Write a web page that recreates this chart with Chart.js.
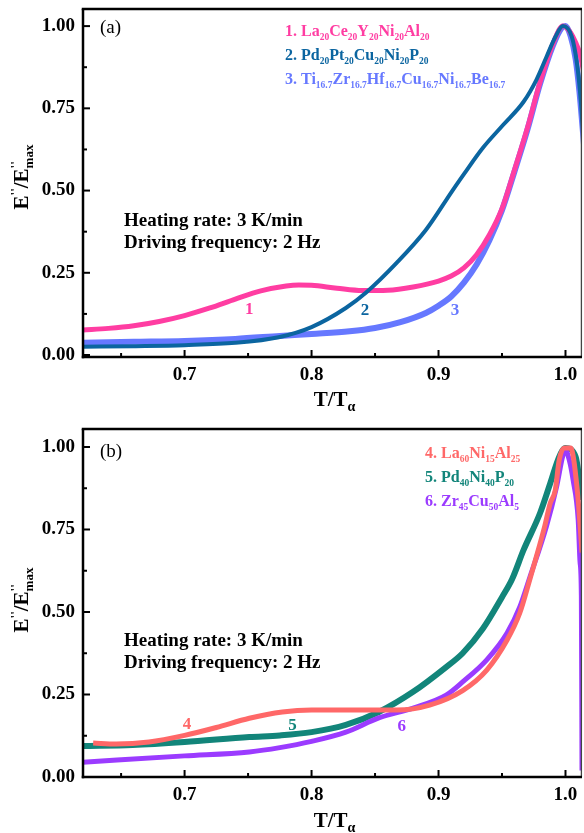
<!DOCTYPE html>
<html><head><meta charset="utf-8">
<script src="https://cdn.jsdelivr.net/npm/chart.js@4.4.0/dist/chart.umd.min.js"></script>
<style>
html,body{margin:0;padding:0;background:#fff;}
#wrap{position:relative;width:584px;height:833px;overflow:hidden;}
canvas{position:absolute;left:0;}
</style></head><body>
<div id="wrap">
<canvas id="c1" width="584" height="416" style="top:0;width:584px;height:416px"></canvas>
<canvas id="c2" width="584" height="417" style="top:416px;width:584px;height:417px"></canvas>
</div>
<script>
// ---- axes ----
const xTicks = [0.7, 0.8, 0.9, 1.0];
const xMinorTicks = [0.65, 0.75, 0.85, 0.95];
const yTicks = [0, 0.25, 0.5, 0.75, 1.0];
const yMinorTicks = [0.125, 0.375, 0.625, 0.875];

// ---- panel (a) ----
const s1Name = "1. La_{20}Ce_{20}Y_{20}Ni_{20}Al_{20}";
const s1X = [0.62,0.64,0.66,0.68,0.70,0.72,0.74,0.76,0.78,0.79,0.80,0.82,0.84,0.86,0.88,0.90,0.91,0.92,0.93,0.94,0.95,0.96,0.97,0.98,0.99,0.998,1.004,1.008,1.011,1.015];
const s1Y = [0.076,0.081,0.089,0.102,0.120,0.143,0.170,0.195,0.210,0.213,0.212,0.203,0.196,0.197,0.207,0.225,0.240,0.265,0.305,0.365,0.445,0.565,0.690,0.830,0.945,1.0,0.98,0.95,0.92,0.85];

const s2Name = "2. Pd_{20}Pt_{20}Cu_{20}Ni_{20}P_{20}";
const s2X = [0.62,0.66,0.70,0.74,0.775,0.80,0.827,0.843,0.867,0.89,0.911,0.92,0.935,0.951,0.967,0.977,0.985,0.992,0.998,1.005,1.009,1.012,1.015];
const s2Y = [0.025,0.027,0.030,0.037,0.055,0.085,0.143,0.190,0.280,0.380,0.500,0.550,0.630,0.700,0.770,0.836,0.906,0.967,1.0,0.967,0.887,0.775,0.60];

const s3Name = "3. Ti_{16.7}Zr_{16.7}Hf_{16.7}Cu_{16.7}Ni_{16.7}Be_{16.7}";
const s3X = [0.62,0.66,0.70,0.74,0.775,0.80,0.83,0.85,0.87,0.89,0.90,0.91,0.92,0.93,0.94,0.95,0.96,0.97,0.98,0.99,0.997,1.0,1.004,1.008,1.011,1.015];
const s3Y = [0.037,0.040,0.043,0.049,0.058,0.064,0.072,0.082,0.100,0.128,0.150,0.178,0.220,0.275,0.348,0.440,0.560,0.685,0.825,0.940,0.995,1.0,0.97,0.90,0.80,0.62];

// ---- panel (b) ----
const s4Name = "4. La_{60}Ni_{15}Al_{25}";
const s4X = [0.628,0.646,0.672,0.70,0.725,0.751,0.777,0.80,0.827,0.867,0.893,0.919,0.938,0.954,0.964,0.972,0.983,0.988,0.992,0.995,0.999,1.004,1.009,1.013,1.016];
const s4Y = [0.103,0.100,0.106,0.126,0.150,0.178,0.197,0.203,0.203,0.203,0.218,0.262,0.324,0.415,0.497,0.600,0.750,0.830,0.870,0.960,0.997,0.997,0.880,0.680,0.50];

const s5Name = "5. Pd_{40}Ni_{40}P_{20}";
const s5X = [0.62,0.659,0.70,0.751,0.775,0.80,0.827,0.853,0.88,0.906,0.919,0.935,0.95,0.958,0.967,0.98,0.988,0.995,1.0,1.008,1.011,1.013];
const s5Y = [0.094,0.097,0.106,0.121,0.126,0.136,0.158,0.197,0.258,0.333,0.375,0.450,0.545,0.600,0.688,0.800,0.890,0.970,0.997,0.970,0.900,0.840];

const s6Name = "6. Zr_{45}Cu_{50}Al_{5}";
const s6X = [0.62,0.70,0.751,0.775,0.80,0.827,0.853,0.88,0.906,0.919,0.938,0.954,0.964,0.972,0.985,0.993,0.998,1.0,1.003,1.006,1.010,1.0115,1.0125,1.013];
const s6Y = [0.045,0.064,0.076,0.089,0.108,0.136,0.179,0.209,0.248,0.288,0.355,0.436,0.515,0.606,0.760,0.880,0.975,0.990,0.960,0.900,0.780,0.650,0.550,0.020];

// curve number labels (data coords)
const labelsA = [["1",0.751,0.137],["2",0.842,0.134],["3",0.913,0.134]];
const labelsB = [["4",0.702,0.158],["5",0.785,0.155],["6",0.871,0.152]];
const noteLines = ["Heating rate: 3 K/min", "Driving frequency: 2 Hz"];

const COL = {1:'#FF3DA2',2:'#0B65A0',3:'#6678FF',4:'#FF6868',5:'#12857A',6:'#9B3BFF'};
const SERIF = '"Liberation Serif","Times New Roman",serif';

function pts(xs, ys){ return xs.map((x,i)=>({x:x, y:ys[i]})); }

function drawRich(ctx, str, x, y, size, subSize, color, weight){
  ctx.fillStyle = color; ctx.textAlign='left'; ctx.textBaseline='alphabetic';
  const parts = str.split(/_\{([^}]*)\}/);
  let cx = x;
  parts.forEach((p,i)=>{
    if(!p) return;
    if(i%2===1){ ctx.font = weight+' '+subSize+'px '+SERIF; ctx.fillText(p,cx,y+4); }
    else { ctx.font = weight+' '+size+'px '+SERIF; ctx.fillText(p,cx,y); }
    cx += ctx.measureText(p).width;
  });
}

const framePlugin = {
  id:'frame',
  afterDatasetsDraw(chart){
    const {ctx, chartArea:a, scales} = chart; const x=scales.x, y=scales.y;
    ctx.save();
    const ln=(x1,y1,x2,y2)=>{ctx.beginPath();ctx.moveTo(x1,y1);ctx.lineTo(x2,y2);ctx.stroke();};
    ctx.strokeStyle='#444'; ctx.lineWidth=1.3;
    ln(a.right-0.6,a.top,a.right-0.6,a.bottom);
    ctx.strokeStyle='#000'; ctx.lineWidth=2.5;
    ln(a.left,a.bottom+1.25,a.left,a.top);
    ln(a.left-1.25,a.top,a.right,a.top);
    ln(a.left-1.25,a.bottom,a.right,a.bottom);
    ctx.lineWidth=2;
    xTicks.forEach(v=>{const p=x.getPixelForValue(v); ln(p,a.bottom,p,a.bottom-7);});
    xMinorTicks.forEach(v=>{const p=x.getPixelForValue(v); ln(p,a.bottom,p,a.bottom-4);});
    yTicks.forEach(v=>{const p=y.getPixelForValue(v); ln(a.left,p,a.left+7,p);});
    yMinorTicks.forEach(v=>{const p=y.getPixelForValue(v); ln(a.left,p,a.left+4,p);});
    ctx.restore();
  }
};

function textPlugin(cfg){
  return {
    id:'texts',
    afterDraw(chart){
      const {ctx, chartArea:a, scales} = chart; const x=scales.x, y=scales.y;
      ctx.save();
      ctx.fillStyle='#000'; ctx.font='19px '+SERIF; ctx.textAlign='left'; ctx.textBaseline='alphabetic';
      ctx.fillText(cfg.panel, 100, cfg.panelY);
      cfg.legend.forEach((L,i)=>drawRich(ctx, L[0], cfg.legX, cfg.legY + i*24, 16, 9.5, L[1], 'bold'));
      ctx.fillStyle='#000'; ctx.font='bold 19px '+SERIF;
      noteLines.forEach((t,i)=>ctx.fillText(t, 124, cfg.noteY + i*22));
      ctx.textAlign='center'; ctx.textBaseline='middle'; ctx.font='bold 17px '+SERIF;
      cfg.labels.forEach((L,i)=>{ ctx.fillStyle=cfg.labelCols[i]; ctx.fillText(L[0], x.getPixelForValue(L[1]), y.getPixelForValue(L[2])); });
      ctx.fillStyle='#000'; ctx.textBaseline='alphabetic'; ctx.textAlign='left';
      ctx.font='bold 21px '+SERIF;
      const w1 = ctx.measureText('T/T').width;
      ctx.font='bold 14px '+SERIF;
      const w2 = ctx.measureText('\u03B1').width;
      let sx = (a.left+a.right)/2 - (w1+w2)/2 + 2;
      ctx.font='bold 21px '+SERIF; ctx.fillText('T/T', sx, cfg.xTitleY);
      ctx.font='bold 14px '+SERIF; ctx.fillText('\u03B1', sx+w1, cfg.xTitleY+5);
      ctx.translate(28, cfg.yTitleC); ctx.rotate(-Math.PI/2);
      const segs = [['E',21,0],["''",13,-9],['/E',21,0]];
      let tw=0; segs.forEach(s=>{ctx.font='bold '+s[1]+'px '+SERIF; tw+=ctx.measureText(s[0]).width;});
      ctx.font='bold 13px '+SERIF; const wPr = ctx.measureText("''").width;
      const wMax = ctx.measureText('max').width;
      tw += Math.max(wPr,wMax);
      let cx = -tw/2;
      segs.forEach(s=>{ctx.font='bold '+s[1]+'px '+SERIF; ctx.fillText(s[0],cx,s[2]); cx+=ctx.measureText(s[0]).width;});
      ctx.font='bold 13px '+SERIF; ctx.fillText("''",cx,-9); ctx.fillText('max',cx,5);
      ctx.restore();
    }
  };
}

function makeChart(id, datasets, cfg){
  return new Chart(document.getElementById(id), {
    type:'line',
    data:{datasets},
    options:{
      responsive:false, animation:false, devicePixelRatio:1,
      layout:{padding:{top:cfg.padTop, right:2, left:0, bottom:0}},
      plugins:{legend:{display:false}, tooltip:{enabled:false}},
      elements:{point:{radius:0}},
      scales:{
        x:{type:'linear', min:0.62, max:1.013,
           afterBuildTicks:s=>{s.ticks = xTicks.map(v=>({value:v}));},
           afterFit:s=>{s.height = cfg.xAxisH; s.paddingLeft=0; s.paddingRight=0; s.paddingTop=0; s.paddingBottom=0;},
           grid:{display:false, drawTicks:false}, border:{display:false},
           ticks:{padding:7, color:'#000', maxRotation:0, autoSkip:false,
                  font:{family:SERIF, size:19, weight:'bold'}, callback:v=>Number(v).toFixed(1)}},
        y:{type:'linear', min:cfg.yMin, max:cfg.yMax,
           afterBuildTicks:s=>{s.ticks = yTicks.map(v=>({value:v}));},
           afterFit:s=>{s.width = 83; s.paddingTop=0; s.paddingBottom=0; s.paddingLeft=0; s.paddingRight=0;},
           grid:{display:false, drawTicks:false}, border:{display:false},
           ticks:{padding:8, color:'#000', autoSkip:false,
                  font:{family:SERIF, size:19, weight:'bold'}, callback:v=>Number(v).toFixed(2)}}
      }
    },
    plugins:[framePlugin, textPlugin(cfg)]
  });
}

function ds(xs, ys, color, w, order){
  return {data:pts(xs,ys), borderColor:color, backgroundColor:color, borderWidth:w,
          cubicInterpolationMode:'monotone', pointRadius:0, fill:false, order:order, clip:0};
}

makeChart('c1', [
  ds(s1X,s1Y,COL[1],5,2),
  ds(s2X,s2Y,COL[2],4,1),
  ds(s3X,s3Y,COL[3],6,3)
], {padTop:9, xAxisH:59, yMin:-0.006, yMax:1.052, panel:'(a)', panelY:33,
    legend:[[s1Name,COL[1]],[s2Name,COL[2]],[s3Name,COL[3]]], legX:285, legY:36,
    noteY:226, labels:labelsA, labelCols:[COL[1],COL[2],COL[3]], xTitleY:406, yTitleC:177});

makeChart('c2', [
  ds(s4X,s4Y,COL[4],5,1),
  ds(s5X,s5Y,COL[5],6,3),
  ds(s6X,s6Y,COL[6],5,2)
], {padTop:13, xAxisH:56, yMin:0, yMax:1.0545, panel:'(b)', panelY:41,
    legend:[[s4Name,COL[4]],[s5Name,COL[5]],[s6Name,COL[6]]], legX:425, legY:42,
    noteY:230, labels:labelsB, labelCols:[COL[4],COL[5],COL[6]], xTitleY:411, yTitleC:184});
</script>
</body></html>
